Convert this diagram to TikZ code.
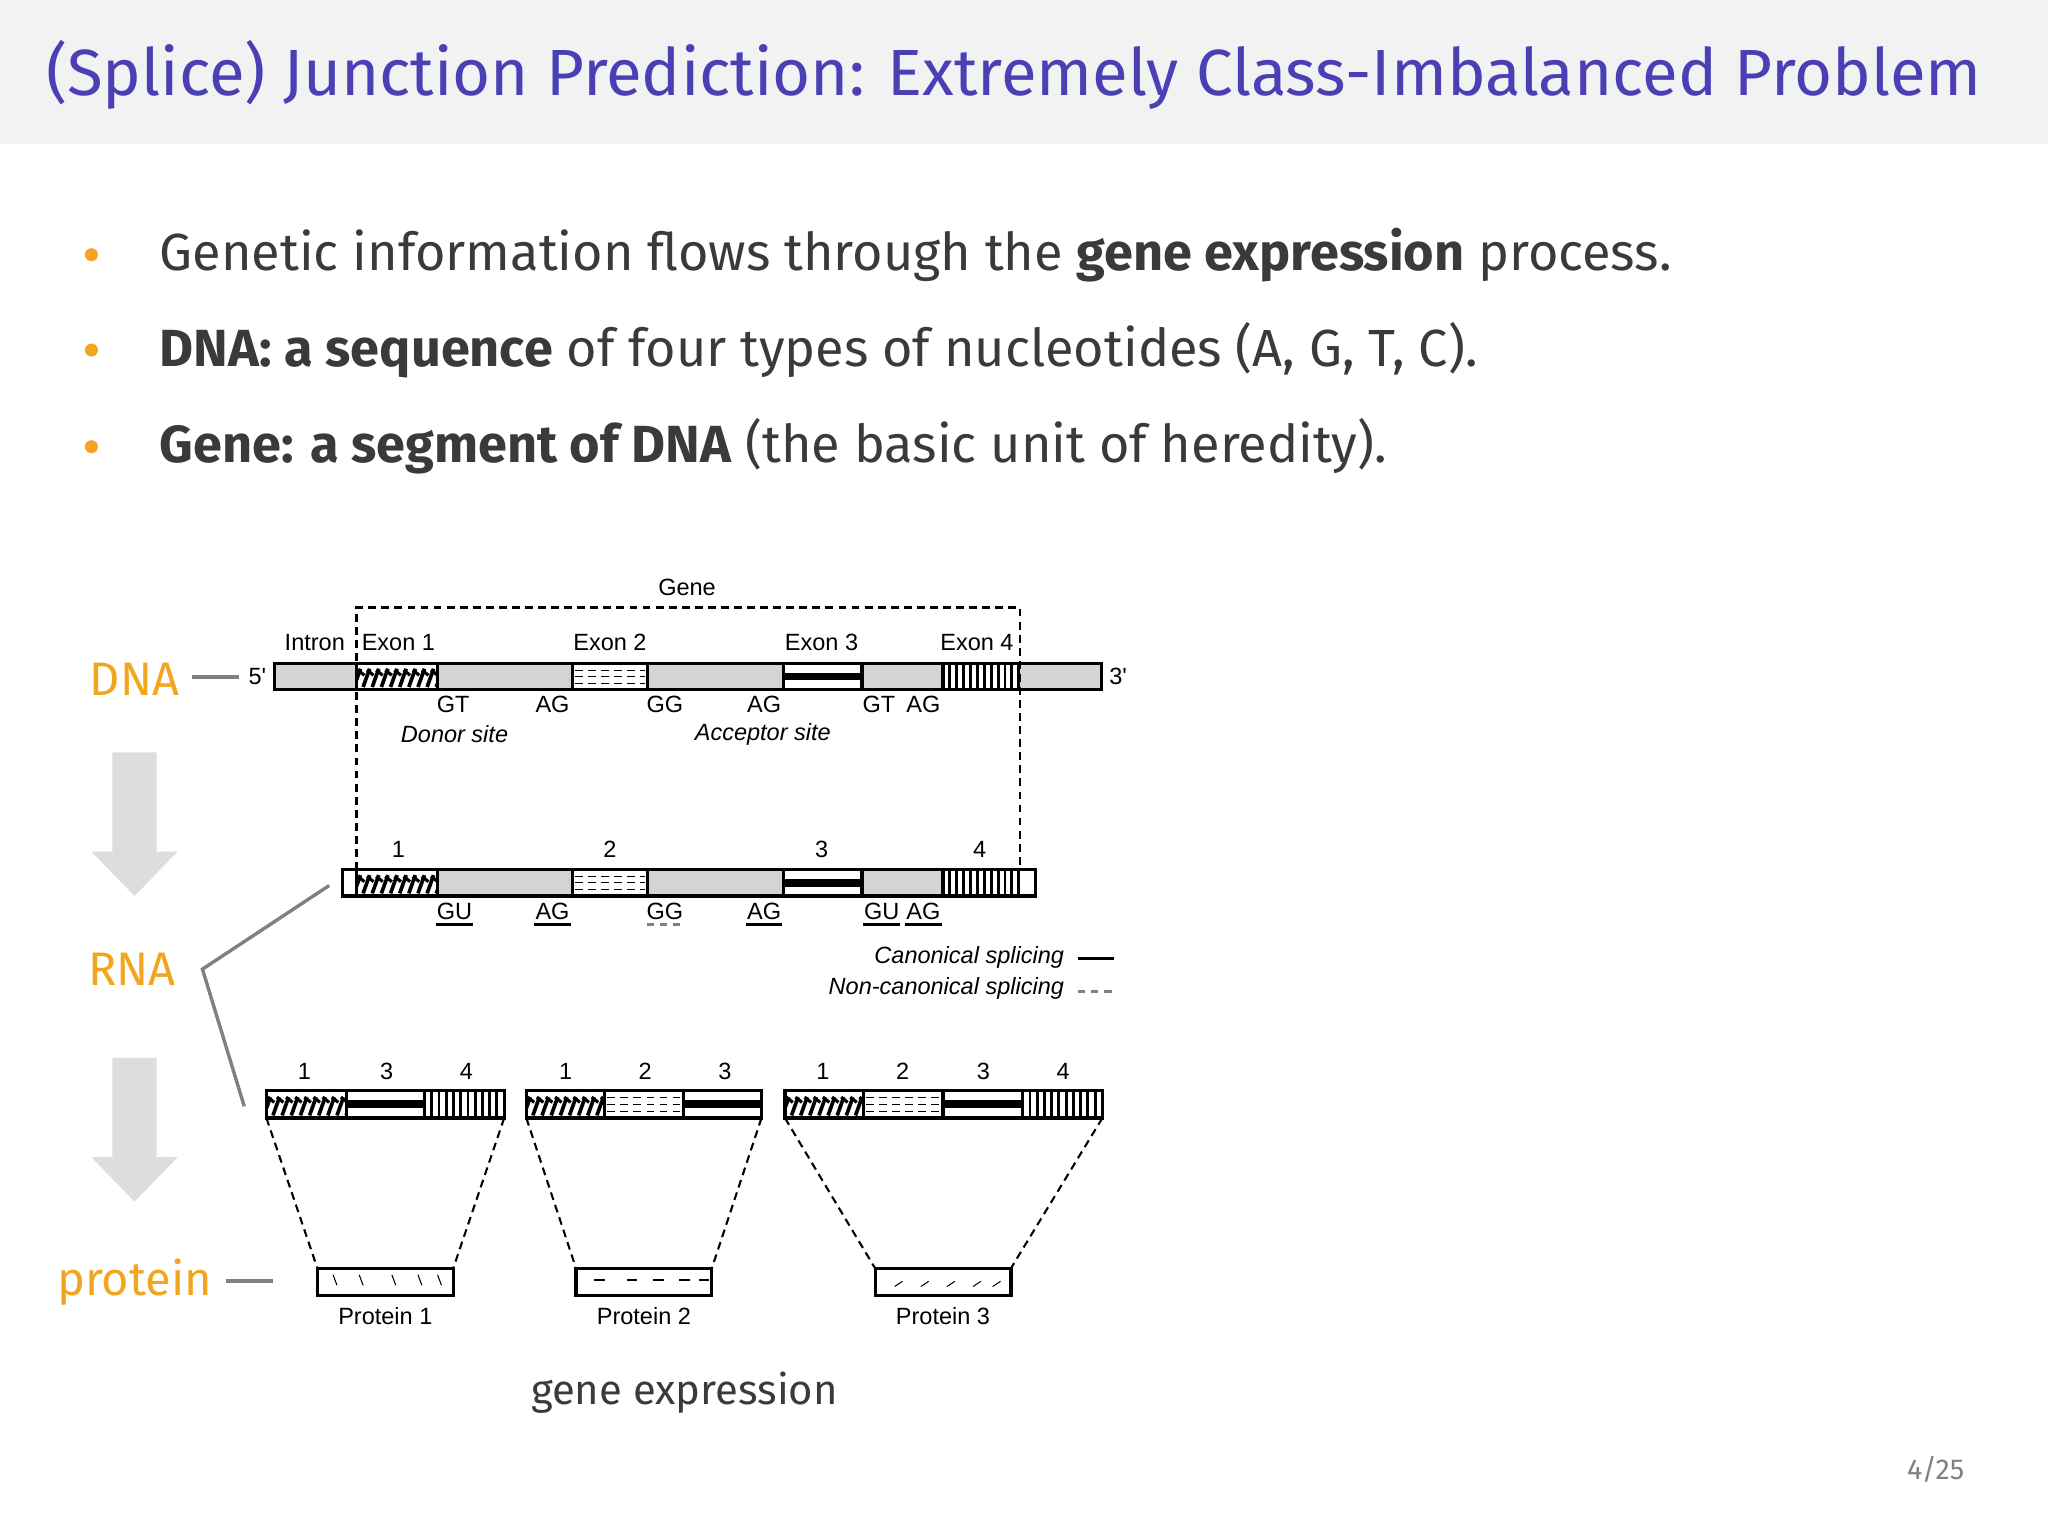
\documentclass[tikz,border=0pt]{standalone}
\usepackage{fontspec}
\setmainfont{Fira Sans}
\newfontfamily\dia{Liberation Sans}
\definecolor{ttl}{HTML}{4A3FB5}
\definecolor{txt}{HTML}{3A3A3A}
\definecolor{org}{HTML}{F2A51F}
\definecolor{hdr}{HTML}{F2F2F2}
\definecolor{bargray}{HTML}{D4D4D4}
\newcommand\exA[4]{\begin{scope}\clip (#1,#3) rectangle (#2,#4);
 \fill[white] (#1,#3) rectangle (#2,#4);
 \foreach \i in {0,...,9}{\draw[line width=1.4pt] (#1+\i*7-2,#4-2) -- ++(5,-14);
 \draw[line width=1.2pt] (#1+\i*7+1,#3+5) -- ++(5,4);}
 \end{scope}\draw[line width=1.2pt] (#1,#3) rectangle (#2,#4);}
\newcommand\exB[4]{\fill[white] (#1,#3) rectangle (#2,#4);
 \foreach \f in {0.25,0.5,0.75}{\draw[densely dashed,line width=0.4pt] (#1+2,{#3+\f*(#4-#3)}) -- (#2-2,{#3+\f*(#4-#3)});}
 \draw[line width=1.2pt] (#1,#3) rectangle (#2,#4);}
\newcommand\exC[4]{\fill[white] (#1,#3) rectangle (#2,#4);
 \fill ({#1},{#3+0.35*(#4-#3)}) rectangle ({#2},{#3+0.65*(#4-#3)});
 \draw[line width=1.2pt] (#1,#3) rectangle (#2,#4);}
\newcommand\exD[4]{\fill[white] (#1,#3) rectangle (#2,#4);
 \foreach \i in {1,...,10}{\draw[line width=1.1pt] ({#1+\i*(#2-#1)/11},#3) -- ({#1+\i*(#2-#1)/11},#4);}
 \draw[line width=1.2pt] (#1,#3) rectangle (#2,#4);}
\newcommand\gr[4]{\filldraw[fill=bargray,line width=1.2pt] (#1,#3) rectangle (#2,#4);}
\begin{document}
\begin{tikzpicture}[x=0.5pt,y=-0.5pt,
 dl/.style={font=\dia\fontsize{9}{10}\selectfont,inner sep=0pt},
 bl/.style={font=\fontsize{20}{24}\selectfont,text=txt,anchor=west,inner sep=0pt},
 ol/.style={font=\fontsize{18}{20}\selectfont,text=org,inner sep=0pt},
 dots/.style={circle,fill=org,inner sep=0pt,minimum size=5pt}]
\useasboundingbox (0,0) rectangle (1568,1176);
\fill[hdr] (0,0) rectangle (1568,110);
\node[font=\fontsize{25}{30}\selectfont,text=ttl,anchor=west,inner sep=0pt] (title) at (35,57) {(Splice) Junction Prediction: Extremely Class-Imbalanced Problem};
\node[dots] (d1) at (70,195) {}; \node[dots] (d2) at (70,268) {}; \node[dots] (d3) at (70,342) {};
\node[bl] (b1) at (122,195) {Genetic information flows through the \textbf{gene expression} process.};
\node[bl] (b2) at (122,268) {\textbf{DNA: a sequence} of four types of nucleotides (A, G, T, C).};
\node[bl] (b3) at (122,342) {\textbf{Gene: a segment of DNA} (the basic unit of heredity).};
% DNA bar
\gr{210}{273}{508}{528}\exA{273}{335}{508}{528}\gr{335}{438}{508}{528}\exB{438}{496}{508}{528}
\gr{496}{600}{508}{528}\exC{600}{660}{508}{528}\gr{660}{722}{508}{528}\exD{722}{780}{508}{528}\gr{780}{843}{508}{528}
\draw[densely dashed,line width=1pt] (273,666) -- (273,465) -- (781,465) -- (781,666);
\node[dl] (gene) at (526,450) {Gene};
\node[dl] (i0) at (241,492) {Intron}; \node[dl] (e1) at (305,492) {Exon 1};
\node[dl] (e2) at (467,492) {Exon 2}; \node[dl] (e3) at (629,492) {Exon 3}; \node[dl] (e4) at (748,492) {Exon 4};
\node[dl] (p5) at (197,518) {5'}; \node[dl] (p3) at (856,518) {3'};
\foreach \n/\x/\t in {a/347/GT,b/423/AG,c/509/GG,d/585/AG,e/673/GT,f/707/AG}{\node[dl] (s\n) at (\x,539) {\t};}
\node[dl,font=\dia\itshape\fontsize{9}{10}\selectfont] (don) at (348,562) {Donor site};
\node[dl,font=\dia\itshape\fontsize{9}{10}\selectfont] (acc) at (584,562) {Acceptor site};
\node[ol] (dna) at (103,520) {DNA};
\draw[gray,line width=1.5pt] (147,518) -- (183,518);
% arrows
\fill[bargray!80] (86,576) -- (120,576) -- (120,652) -- (136,652) -- (103,686) -- (70,652) -- (86,652) -- cycle;
\fill[bargray!80] (86,810) -- (120,810) -- (120,886) -- (136,886) -- (103,920) -- (70,886) -- (86,886) -- cycle;
% RNA bar
\filldraw[fill=white,line width=1.2pt] (262,666) rectangle (273,686);
\exA{273}{335}{666}{686}\gr{335}{438}{666}{686}\exB{438}{496}{666}{686}
\gr{496}{600}{666}{686}\exC{600}{660}{666}{686}\gr{660}{722}{666}{686}\exD{722}{780}{666}{686}
\filldraw[fill=white,line width=1.2pt] (780,666) rectangle (793,686);
\foreach \n/\x in {1/305,2/467,3/629,4/750}{\node[dl] (r\n) at (\x,650) {\n};}
\foreach \n/\x/\t in {a/348/GU,b/423/AG,c/509/GG,d/585/AG,e/675/GU,f/707/AG}{\node[dl] (u\n) at (\x,698) {\t};}
\foreach \x in {348,423,585,675,707}{\draw[line width=1.2pt] (\x-14,708) -- (\x+14,708);}
\draw[densely dashed,gray,line width=1.2pt] (495,708) -- (523,708);
\node[dl,anchor=east,font=\dia\itshape\fontsize{9}{10}\selectfont] (can) at (815,733) {Canonical splicing};
\node[dl,anchor=east,font=\dia\itshape\fontsize{9}{10}\selectfont] (ncan) at (815,757) {Non-canonical splicing};
\draw[line width=1.2pt] (825,734) -- (853,734);
\draw[densely dashed,gray,line width=1pt] (825,759) -- (853,759);
\node[ol] (rna) at (101,742) {RNA};
\coordinate (v) at (155,742);
\draw[gray,line width=1.3pt] (252,678) -- (v) -- (187,847);
% protein bars
\exA{204}{265}{835}{856}\exC{265}{325}{835}{856}\exD{325}{386}{835}{856}
\exA{403}{463}{835}{856}\exB{463}{523}{835}{856}\exC{523}{583}{835}{856}
\exA{601}{661}{835}{856}\exB{661}{722}{835}{856}\exC{722}{783}{835}{856}\exD{783}{844}{835}{856}
\foreach \n/\x/\t in {a/233/1,b/296/3,c/357/4,d/433/1,e/494/2,f/555/3,g/630/1,h/691/2,i/753/3,j/814/4}{\node[dl] (q\n) at (\x,820) {\t};}
% proteins
\foreach \n/\a/\b/\c/\d in {1/243/347/204/386,2/441/545/403/583,3/670/774/601/844}{
 \draw[line width=1.2pt] (\a,971) rectangle (\b,992);
 \draw[densely dashed,line width=0.8pt] (\c,856) -- (\a,971);
 \draw[densely dashed,line width=0.8pt] (\d,856) -- (\b,971);}
\foreach \x in {255,275,300,320,335}{\draw[line width=0.4pt] (\x,976) -- ++(3,8);}
\foreach \x in {455,480,500,520,535}{\draw[line width=0.6pt] (\x,980) -- ++(8,0);}
\foreach \x in {685,705,725,745,760}{\draw[line width=0.4pt] (\x,985) -- ++(6,-4);}
\node[dl] (pt1) at (295,1008) {Protein 1}; \node[dl] (pt2) at (493,1008) {Protein 2}; \node[dl] (pt3) at (722,1008) {Protein 3};
\node[ol] (prot) at (103,982) {protein};
\draw[gray,line width=1.5pt] (173,981) -- (209,981);
\node[font=\fontsize{16}{18}\selectfont,text=txt,inner sep=0pt] (ge) at (524,1066) {gene expression};
\node[font=\fontsize{11}{12}\selectfont,text=gray,inner sep=0pt] (pg) at (1482,1125) {4/25};
\end{tikzpicture}
\end{document}
